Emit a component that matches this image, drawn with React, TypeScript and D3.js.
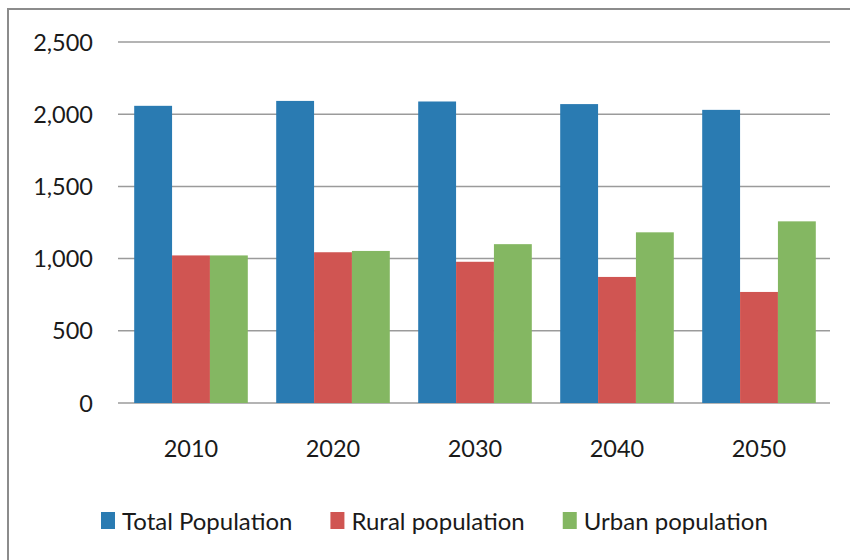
import React, { useEffect, useRef } from 'react';
import * as d3 from 'd3';

const years = ['2010', '2020', '2030', '2040', '2050'];
const seriesNames = ['Total Population', 'Rural population', 'Urban population'];
const totalPopulation = [2058, 2092, 2088, 2070, 2030];
const ruralPopulation = [1022, 1044, 978, 873, 769];
const urbanPopulation = [1022, 1053, 1100, 1182, 1258];
const yTicks = [0, 500, 1000, 1500, 2000, 2500];
const colors = ['#2a7bb2', '#d05552', '#84b762'];

const W = 850;
const H = 560;

const App = () => {
  const svgRef = useRef<SVGSVGElement>(null);

  useEffect(() => {
    const svg = d3.select(svgRef.current);
    svg.selectAll('*').remove();

    const font = 'Lato, "Noto Sans", sans-serif';
    const series = [totalPopulation, ruralPopulation, urbanPopulation];

    // outer chart frame (cut off on the right and bottom in the original)
    svg
      .append('rect')
      .attr('x', 8)
      .attr('y', 9)
      .attr('width', W + 20)
      .attr('height', H + 20)
      .attr('fill', '#fff')
      .attr('stroke', '#8c8c8c')
      .attr('stroke-width', 2);

    const y = d3.scaleLinear().domain([0, 2500]).range([403, 42]);
    const x0 = d3.scaleBand().domain(years).range([120, 830]).paddingInner(0.2).paddingOuter(0.1);
    const x1 = d3.scaleBand().domain(seriesNames).range([0, x0.bandwidth()]);

    // gridlines
    svg
      .append('g')
      .selectAll('line')
      .data(yTicks)
      .enter()
      .append('line')
      .attr('x1', 118)
      .attr('x2', 830)
      .attr('y1', (d) => y(d))
      .attr('y2', (d) => y(d))
      .attr('stroke', '#9b9b9b')
      .attr('stroke-width', 1.5);

    // y labels
    svg
      .append('g')
      .selectAll('text')
      .data(yTicks)
      .enter()
      .append('text')
      .attr('x', 93)
      .attr('y', (d) => y(d) + 8.5)
      .attr('text-anchor', 'end')
      .attr('font-family', font)
      .attr('font-size', 23.5)
      .attr('fill', '#1a1a1a')
      .text((d) => d3.format(',')(d));

    // bars
    const groups = svg
      .append('g')
      .selectAll('g')
      .data(years)
      .enter()
      .append('g')
      .attr('transform', (d) => `translate(${x0(d)},0)`);

    groups
      .selectAll('rect')
      .data((d, i) => series.map((s, j) => ({ name: seriesNames[j], value: s[i], j })))
      .enter()
      .append('rect')
      .attr('x', (d) => x1(d.name)!)
      .attr('width', x1.bandwidth())
      .attr('y', (d) => y(d.value))
      .attr('height', (d) => y(0) - y(d.value))
      .attr('fill', (d) => colors[d.j]);

    // x labels
    svg
      .append('g')
      .selectAll('text')
      .data(years)
      .enter()
      .append('text')
      .attr('x', (d) => x0(d)! + x0.bandwidth() / 2)
      .attr('y', 457)
      .attr('text-anchor', 'middle')
      .attr('font-family', font)
      .attr('font-size', 23.5)
      .attr('fill', '#1a1a1a')
      .text((d) => d);

    // legend
    const legend = svg.append('g');
    let lx = 101;
    seriesNames.forEach((name, i) => {
      legend
        .append('rect')
        .attr('x', lx)
        .attr('y', 512)
        .attr('width', 14)
        .attr('height', 17)
        .attr('fill', colors[i]);
      const t = legend
        .append('text')
        .attr('x', lx + 21)
        .attr('y', 530)
        .attr('font-family', font)
        .attr('font-size', 24)
        .attr('fill', '#1a1a1a')
        .text(name);
      const len = (t.node() as SVGTextElement).getComputedTextLength();
      lx += 21 + len + 38;
    });
  }, []);

  return (
    <svg
      ref={svgRef}
      width={W}
      height={H}
      style={{ position: 'absolute', left: 0, top: 0, display: 'block', background: '#fff' }}
    ></svg>
  );
};

export default App;
